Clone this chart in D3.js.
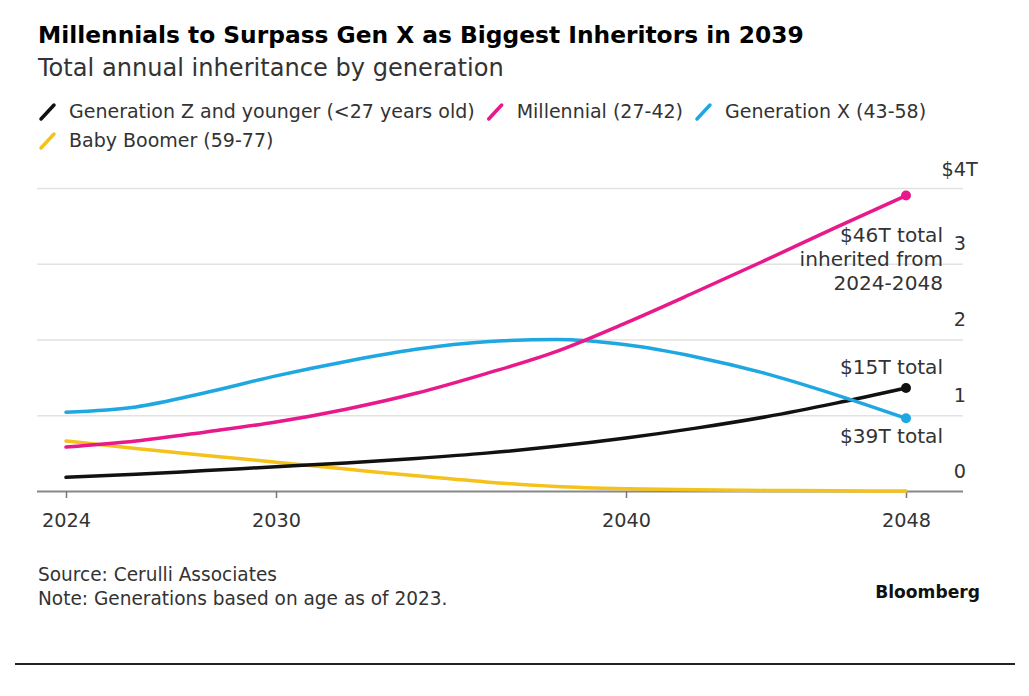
<!DOCTYPE html>
<html>
<head>
<meta charset="utf-8">
<script src="https://cdn.jsdelivr.net/npm/d3@7"></script>
<style>
  body { margin: 0; background: #fff; }
  svg { display: block; font-family: "DejaVu Sans", "Liberation Sans", Arial, sans-serif; }
</style>
</head>
<body>
<svg id="chart" width="1029" height="696"></svg>
<script>
'use strict';

// Data ($T per year)
const years = [2024, 2026, 2028, 2030, 2032, 2034, 2036, 2038, 2040, 2042, 2044, 2046, 2048];
const genZ = [0.18, 0.22, 0.27, 0.32, 0.37, 0.43, 0.50, 0.59, 0.70, 0.83, 0.98, 1.16, 1.36];
const millennial = [0.58, 0.66, 0.78, 0.91, 1.08, 1.29, 1.55, 1.84, 2.22, 2.63, 3.05, 3.48, 3.90];
const genX = [1.04, 1.11, 1.30, 1.52, 1.71, 1.87, 1.97, 2.00, 1.93, 1.77, 1.55, 1.27, 0.96];
const boomer = [0.66, 0.56, 0.47, 0.38, 0.29, 0.20, 0.12, 0.06, 0.03, 0.015, 0.008, 0.003, 0.0];

const seriesNames = [
    'Generation Z and younger (<27 years old)',
    'Millennial (27-42)',
    'Generation X (43-58)',
    'Baby Boomer (59-77)'
];
const colours = ['#111111', '#e8198b', '#1ea7e1', '#f4c21b'];
const xTicks = [2024, 2030, 2040, 2048];
const yTicks = [0, 1, 2, 3, 4];

// end-of-line notes: [series index, lines]
const notes = [
    [1, ['$46T total', 'inherited from', '2024-2048']],
    [0, ['$15T total']],
    [2, ['$39T total']]
];

const svg = d3.select('#chart');

const x = d3.scaleLinear().domain([2024, 2048]).range([66, 906]);
const y = d3.scaleLinear().domain([0, 4]).range([491, 188]);
const gridLeft = 37;
const gridRight = 963;

// The original face runs wider than anything installed, so size text by its width
function fitSize(str, width, weight) {
    let probe = svg.append('text')
        .attr('font-size', 20)
        .attr('font-weight', weight || 'normal')
        .text(str);
    let w = probe.node().getComputedTextLength();
    probe.remove();
    return 20 * width / w;
}

const titleSize = fitSize('Millennials to Surpass Gen X as Biggest Inheritors in 2039', 766, 'bold');
const subSize = fitSize('Total annual inheritance by generation', 466);
const legendSize = fitSize(seriesNames[0], 406);
const tickSize = fitSize('2024', 49);
const noteSize = fitSize('$46T total', 103);
const footSize = fitSize('Note: Generations based on age as of 2023.', 410);
const brandSize = fitSize('Bloomberg', 105, 'bold');

// Titles
svg.append('text')
    .attr('x', 38).attr('y', 43)
    .attr('font-size', titleSize).attr('font-weight', 'bold').attr('fill', '#000')
    .text('Millennials to Surpass Gen X as Biggest Inheritors in 2039');

svg.append('text')
    .attr('x', 38).attr('y', 76)
    .attr('font-size', subSize).attr('fill', '#333')
    .text('Total annual inheritance by generation');

// Legend, laid out from measured text widths
let legendRows = [[0, 1, 2], [3]];
legendRows.forEach((row, r) => {
    let cx = 41;
    let cy = 112 + r * 29;
    row.forEach((i) => {
        svg.append('line')
            .attr('x1', cx).attr('y1', cy + 7)
            .attr('x2', cx + 13).attr('y2', cy - 7)
            .attr('stroke', colours[i]).attr('stroke-width', 3.5)
            .attr('stroke-linecap', 'round');
        let t = svg.append('text')
            .attr('x', cx + 28).attr('y', cy + 6)
            .attr('font-size', legendSize).attr('fill', '#333')
            .text(seriesNames[i]);
        cx += 28 + t.node().getComputedTextLength() + 14;
    });
});

// Y grid + labels (axis on the right, ticks running left across the plot)
let yAxis = svg.append('g')
    .attr('transform', `translate(${gridRight},0)`)
    .call(d3.axisRight(y).tickValues(yTicks).tickSize(-(gridRight - gridLeft)).tickFormat((d) => d === 4 ? '$4T' : d))
    .attr('font-family', null)
    .attr('font-size', null);

yAxis.select('.domain').remove();
yAxis.selectAll('.tick line')
    .attr('stroke', (d) => d === 0 ? '#888' : '#e2e2e2')
    .attr('stroke-width', (d) => d === 0 ? 2 : 1.5);
yAxis.selectAll('.tick text')
    .attr('font-size', tickSize)
    .attr('fill', '#333')
    .attr('text-anchor', 'end')
    .attr('x', 3)
    .attr('dy', '-0.72em');

// hang the T of $4T past the digit column
let topLabel = yAxis.selectAll('.tick text').filter((d) => d === 4);
let tWidth = topLabel.node().getSubStringLength(2, 1);
topLabel.attr('x', 3 + tWidth).attr('dy', '-0.65em');

// X axis
let xAxis = svg.append('g')
    .attr('transform', `translate(0,${y(0)})`)
    .call(d3.axisBottom(x).tickValues(xTicks).tickFormat(d3.format('d')).tickSize(7).tickPadding(15))
    .attr('font-family', null)
    .attr('font-size', null);

xAxis.select('.domain').remove();
xAxis.selectAll('.tick line').attr('stroke', '#777').attr('stroke-width', 1.5);
xAxis.selectAll('.tick text')
    .attr('font-size', tickSize)
    .attr('fill', '#333');

// Lines
const allSeries = [genZ, millennial, genX, boomer];
const line = d3.line()
    .x((d, i) => x(years[i]))
    .y((d) => y(d))
    .curve(d3.curveMonotoneX);

// draw boomer first so it sits under the rest
[3, 0, 2, 1].forEach((i) => {
    svg.append('path')
        .datum(allSeries[i])
        .attr('fill', 'none')
        .attr('stroke', colours[i])
        .attr('stroke-width', 3.5)
        .attr('stroke-linecap', 'round')
        .attr('d', line);
});

// End dots
[0, 1, 2].forEach((i) => {
    let vals = allSeries[i];
    svg.append('circle')
        .attr('cx', x(years[years.length - 1]))
        .attr('cy', y(vals[vals.length - 1]))
        .attr('r', 5)
        .attr('fill', colours[i]);
});

// Notes at line ends
const noteY = {1: 242, 0: 374, 2: 443};
notes.forEach(([i, lines]) => {
    let t = svg.append('text')
        .attr('x', 943).attr('y', noteY[i])
        .attr('text-anchor', 'end')
        .attr('font-size', noteSize).attr('fill', '#333');
    lines.forEach((l, k) => {
        t.append('tspan').attr('x', 943).attr('dy', k === 0 ? 0 : 24).text(l);
    });
});

// Footer
svg.append('text')
    .attr('x', 38).attr('y', 581)
    .attr('font-size', footSize).attr('fill', '#333')
    .text('Source: Cerulli Associates');
svg.append('text')
    .attr('x', 38).attr('y', 605)
    .attr('font-size', footSize).attr('fill', '#333')
    .text('Note: Generations based on age as of 2023.');
svg.append('text')
    .attr('x', 980).attr('y', 598)
    .attr('text-anchor', 'end')
    .attr('font-size', brandSize).attr('font-weight', 'bold').attr('fill', '#111')
    .text('Bloomberg');

svg.append('line')
    .attr('x1', 15).attr('x2', 1015)
    .attr('y1', 664).attr('y2', 664)
    .attr('stroke', '#222').attr('stroke-width', 2);
</script>
</body>
</html>
